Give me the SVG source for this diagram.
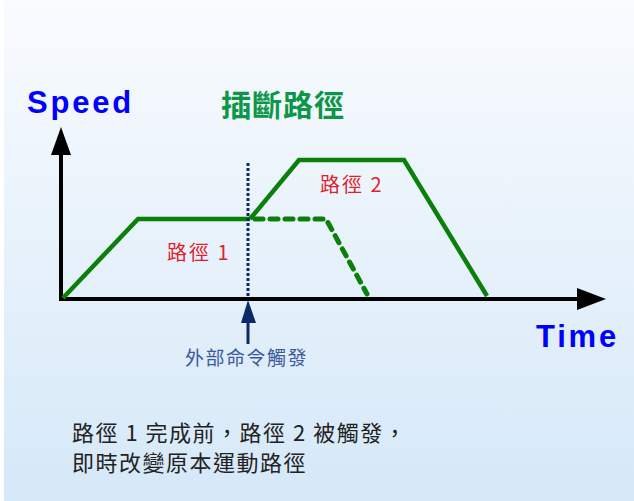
<svg xmlns="http://www.w3.org/2000/svg" width="634" height="501" viewBox="0 0 634 501">
<defs>
<linearGradient id="bg" x1="0" y1="0" x2="0" y2="1">
<stop offset="0" stop-color="#f9fbfe"/>
<stop offset="1" stop-color="#d5e8f8"/>
</linearGradient>
<style>
.axis{stroke:#000;stroke-width:4;fill:none}
.path{stroke:#0a800a;stroke-width:4.5;fill:none;stroke-linejoin:miter}
.dash{stroke:#0a800a;stroke-width:5;fill:none;stroke-dasharray:8 7;stroke-linecap:round}
.en{font-family:"Liberation Sans",Arial,sans-serif;font-weight:bold;fill:#0000ff;font-size:31px;letter-spacing:2.8px}
.zh{font-family:"Noto Sans CJK TC","Noto Sans CJK SC",sans-serif}
</style>
</defs>
<rect x="0" y="0" width="634" height="501" fill="#ffffff"/>
<rect x="4" y="0" width="630" height="501" fill="url(#bg)"/>

<g id="axes">
<line class="axis" x1="61" y1="300" x2="61" y2="150"/>
<polygon points="61,127 51,155 71,155" fill="#000"/>
<line class="axis" x1="59" y1="299" x2="582" y2="299"/>
<polygon points="606,299 577,288 577,310" fill="#000"/>
</g>

<g id="labels">
<text class="en" x="27" y="113">Speed</text>
<text class="en" x="536" y="347">Time</text>
<text class="zh" x="221" y="116" font-size="30" font-weight="bold" fill="#0c9648" letter-spacing="1">插斷路徑</text>
</g>

<g id="path1">
<polyline class="path" points="63,298 138,219 250,219"/>
<text class="zh" x="167" y="260" font-size="20" fill="#e0202c" letter-spacing="2">路徑 1</text>
</g>

<g id="path2">
<polyline class="path" points="250,219 299,160 404,160 487,296"/>
<text class="zh" x="320" y="192" font-size="20" fill="#e0202c" letter-spacing="2">路徑 2</text>
</g>

<g id="path1-remaining">
<polyline class="dash" points="255,219 326,219 367,294"/>
</g>

<g id="trigger">
<line x1="248" y1="163" x2="248" y2="298" stroke="#0b2a66" stroke-width="3" stroke-dasharray="3 2"/>
<line x1="248" y1="344" x2="248" y2="320" stroke="#0b2a66" stroke-width="3"/>
<polygon points="248,300 241,323 256,323" fill="#0b2a66"/>
<text class="zh" x="185" y="365" font-size="19" fill="#3a5a9c" letter-spacing="1.5">外部命令觸發</text>
</g>

<g id="caption">
<text class="zh" x="72" y="441" font-size="22" fill="#222" letter-spacing="1.5">路徑 1 完成前，路徑 2 被觸發，</text>
<text class="zh" x="72" y="471" font-size="22" fill="#222" letter-spacing="1.5">即時改變原本運動路徑</text>
</g>
</svg>
